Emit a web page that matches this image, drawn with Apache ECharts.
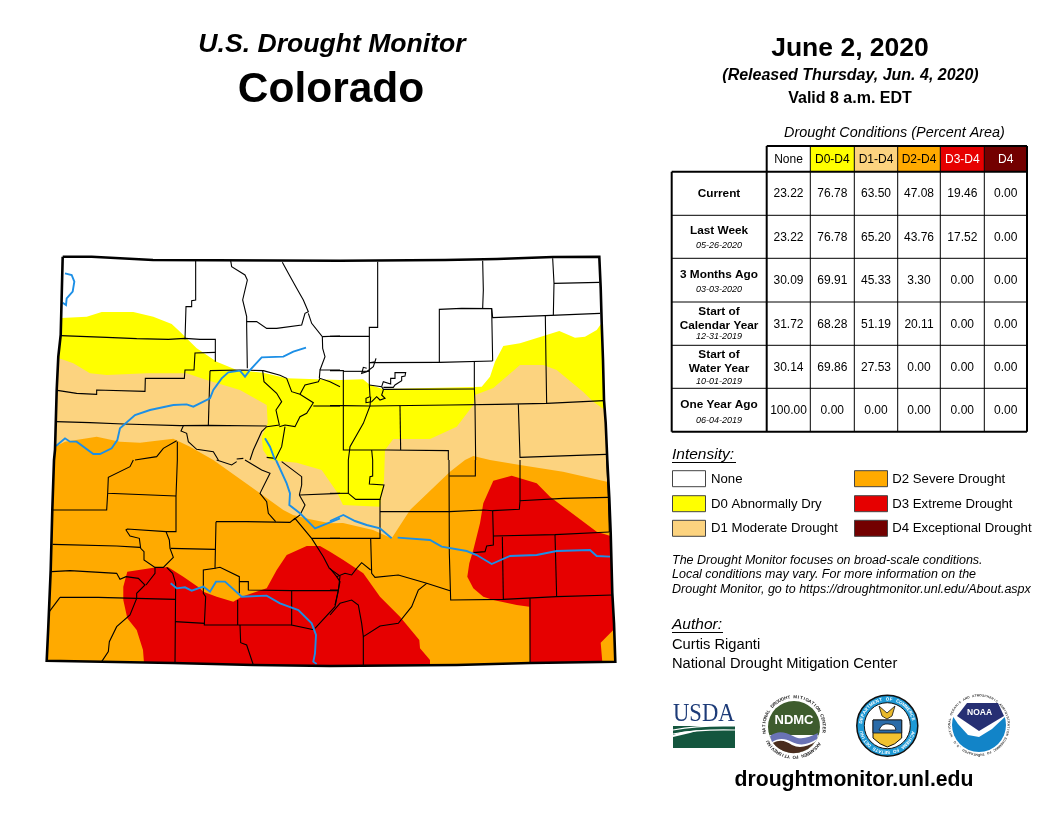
<!DOCTYPE html>
<html>
<head>
<meta charset="utf-8">
<title>U.S. Drought Monitor - Colorado</title>
<script src="https://cdn.jsdelivr.net/npm/echarts@6/dist/echarts.min.js"></script>
<style>
  html, body {margin: 0; padding: 0; background: #fff;}
  #main {width: 1056px; height: 816px;}
</style>
</head>
<body>
<div id="main"></div>
<script>
// table data
const columns = ["None", "D0-D4", "D1-D4", "D2-D4", "D3-D4", "D4"];
const current = ["23.22", "76.78", "63.50", "47.08", "19.46", "0.00"];
const lastWeek = ["23.22", "76.78", "65.20", "43.76", "17.52", "0.00"];
const threeMonths = ["30.09", "69.91", "45.33", "3.30", "0.00", "0.00"];
const calendarYear = ["31.72", "68.28", "51.19", "20.11", "0.00", "0.00"];
const waterYear = ["30.14", "69.86", "27.53", "0.00", "0.00", "0.00"];
const oneYear = ["100.00", "0.00", "0.00", "0.00", "0.00", "0.00"];
const rowValues = [current, lastWeek, threeMonths, calendarYear, waterYear, oneYear];
const legendNames = ["None", "D0 Abnormally Dry", "D1 Moderate Drought", "D2 Severe Drought", "D3 Extreme Drought", "D4 Exceptional Drought"];
const legendColors = ["#ffffff", "#ffff00", "#fcd37f", "#ffaa00", "#e60000", "#730000"];

// state border and drought areas, in map units
const stateBorder = [[62.7,256.7],[91.7,256.7],[153,260],[340,260.7],[445,260],[497,259],[553,257],[599.3,256.7],[600.7,288],[601.7,323],[603,360],[604,400],[605.7,423],[607.3,460],[609.3,498],[610.7,533],[612.3,593],[614,623],[615.3,661.7],[530,663],[456.7,665],[330,666],[253,665],[173,663],[101.7,661.7],[46.7,660.7],[48.3,626.7],[50.7,570],[52.3,510],[54,460],[55,450],[56.7,390],[58.3,356.7],[60.7,335]];
const d0Area = [[61.3,318],[86.7,316.7],[101.7,312],[133.3,312],[153.3,316.7],[171.7,324],[180,331.7],[196.7,348.3],[216.7,361.7],[236.7,370],[263.3,372.7],[286.7,378.3],[340,380],[363,379.3],[370,385],[383,389],[474,387],[481.7,386.7],[490,376.7],[495,361.7],[503.3,346],[520,343.3],[543.3,336],[559.3,331],[575,337.7],[585,336.7],[596.7,330],[601.7,323],[603,360],[604,400],[605.7,423],[607.3,460],[609.3,498],[610.7,533],[612.3,593],[614,623],[615.3,661.7],[530,663],[456.7,665],[330,666],[253,665],[173,663],[101.7,661.7],[46.7,660.7],[48.3,626.7],[50.7,570],[52.3,510],[54,460],[55,450],[56.7,390],[58.3,356.7],[60.7,335]];
const d1Area = [[59,358.3],[73.3,363.3],[90,373.3],[106.7,375],[146.7,373.3],[186.7,373.3],[206.7,380],[240,390],[266.7,405],[267.7,423.3],[261.7,436.7],[263,450],[270,460],[296.7,462.7],[321.7,470],[336.7,491.7],[343,505],[380,506.7],[384,480],[385,450],[393.3,439],[430,439],[456.7,426.7],[473.3,405],[475,395],[493.3,388],[520,365],[543.3,365],[556.7,370],[583,391.7],[593.3,401.7],[604,409.3],[605.7,423],[607.3,460],[609.3,498],[610.7,533],[612.3,593],[614,623],[615.3,661.7],[530,663],[456.7,665],[330,666],[253,665],[173,663],[101.7,661.7],[46.7,660.7],[48.3,626.7],[50.7,570],[52.3,510],[54,460],[55,450],[56.7,390]];
const d2Area = [[55,446.7],[65,441.7],[96.7,436.7],[120,441.7],[140,442.7],[173.3,438.7],[190,446.7],[213.3,460],[260,493.3],[283.3,510],[293,515],[310,519.3],[330,523.3],[343,523],[373,530],[391.7,538.3],[410,510],[450,471.7],[465,460],[473.3,456],[490,460],[520,465],[563,471.7],[607,481.7],[609.3,498],[610.7,533],[612.3,593],[614,623],[615.3,661.7],[530,663],[456.7,665],[330,666],[253,665],[173,663],[101.7,661.7],[46.7,660.7],[48.3,626.7],[50.7,570],[52.3,510],[54,460]];
const d3West = [[127.3,571.7],[156.7,567.3],[168.3,567.3],[183.3,576.7],[200,588.3],[203.3,591.7],[216.7,596.7],[233.3,601.7],[241.7,596.7],[266.7,588.3],[276.7,570],[286.7,555],[306.7,546],[320,546],[330,551.7],[343.3,560],[363.3,573.3],[380,596.7],[400,616.7],[419.3,640],[420,648.3],[430,660],[430,665.3],[330,666],[253,665],[173,663],[144,663],[143,650],[136.7,630],[127.3,618.3],[123.3,600],[123.3,586.7]];
const d3East = [[493.3,480.7],[511.7,475.7],[536.7,483.3],[550,496.7],[570,511.7],[596.7,531.7],[610.6,536],[612.3,593],[613.3,630],[600.7,642.7],[602.3,662],[530,663],[529.3,606.7],[516.7,605],[493.3,600],[483.3,596.7],[473.3,588.3],[467.3,576.7],[469.3,563.3],[473.3,550],[480,523.3],[483.3,503.3]];

// county lines (3x units)
const countiesNW = [
  [[467,32],[467,150],[455,152],[455,170],[438,170],[435,268]],
  [[62,257],[200,262],[290,266],[385,268],[435,265],[480,268],[526,268],[526,335]],
  [[526,307],[465,309],[462,360],[435,360],[433,385],[316,385],[315,424],[170,420],[170,433],[110,430],[52,421]],
  [[48,515],[150,518],[250,522],[420,527],[505,526],[680,528]],
  [[510,362],[505,526]],
  [[510,362],[600,360],[670,362],[720,376],[740,385],[755,425],[780,433],[820,458],[800,490],[780,500],[765,530],[735,525],[718,530]],
  [[668,362],[672,395],[710,430],[725,455],[708,480],[718,525],[680,530],[665,545],[640,600],[630,630]],
  [[780,433],[795,405],[835,395],[840,385],[870,395],[900,410]],
  [[838,385],[840,360],[900,360]],
  [[820,468],[900,468]],
  [[735,530],[725,590],[705,630]],
  [[572,32],[575,50],[615,75],[622,90],[608,150],[620,200],[620,230],[622,355]],
  [[620,215],[650,215],[680,235],[710,235],[785,225],[795,190],[805,185],[790,150],[770,115],[745,70],[727,37]],
  [[805,190],[815,220],[847,260],[848,295],[855,320],[840,360]],
  [[847,260],[900,258]],
  [[430,527],[423,543],[440,550],[445,575],[470,598],[520,605],[535,630]],
  [[412,575],[412,630]],
  [[410,572],[370,595],[350,620],[285,630]],
  [[590,627],[610,625]],
  [[680,622],[705,625]]
];
const countiesNE = [
  [[143,35],[143,232],[118,232],[118,405],[120,440],[108,445],[108,458],[125,455],[140,440],[150,450],[165,445],[155,435],[160,420]],
  [[0,259],[118,259]],
  [[0,362],[40,362],[40,600],[170,600],[355,602],[355,630]],
  [[40,364],[118,364]],
  [[118,338],[328,337],[488,333]],
  [[328,337],[328,178],[395,175],[485,176],[488,333]],
  [[485,176],[488,203],[645,197],[810,190]],
  [[458,32],[460,120],[458,175]],
  [[668,25],[672,100],[670,195]],
  [[672,100],[808,97]],
  [[646,197],[648,340],[650,460]],
  [[433,335],[433,412],[435,465],[437,630]],
  [[118,405],[155,410],[160,418],[433,417]],
  [[118,338],[135,335],[138,325],[130,350],[110,365],[95,370],[100,352],[110,355]],
  [[155,410],[160,395],[182,402],[182,385],[195,385],[195,368],[227,368],[225,378],[215,380],[215,392],[195,405],[190,412],[160,412]],
  [[122,440],[120,468],[100,520],[60,590],[55,630]],
  [[0,467],[40,467],[120,468],[360,465],[500,463],[650,460],[822,452]],
  [[210,468],[212,600]],
  [[125,600],[128,630]],
  [[565,463],[570,622],[828,613]]
];
const countiesSW = [
  [[412,0],[408,110],[408,215],[378,215],[262,207],[258,210],[270,228],[298,235],[302,265],[312,275],[312,300],[345,322],[370,322],[400,292],[390,265],[388,240],[378,215]],
  [[280,0],[270,20],[205,52],[203,100],[408,108]],
  [[203,100],[200,150],[120,150],[37,150]],
  [[38,253],[230,258],[300,262]],
  [[392,265],[525,268]],
  [[528,185],[525,325],[490,330],[490,400],[497,410],[493,495],[755,495]],
  [[528,185],[620,185],[750,187],[765,175],[815,235],[900,235]],
  [[815,235],[850,290],[868,325],[900,348],[895,392],[885,440],[825,505]],
  [[35,335],[90,332],[230,340],[240,358],[258,350],[295,355],[315,375],[290,400],[290,415],[270,465],[230,500],[208,545],[205,575],[185,605]],
  [[60,412],[175,412],[405,418]],
  [[60,412],[28,455]],
  [[345,322],[345,340],[318,375]],
  [[380,322],[398,340],[407,370],[405,610]],
  [[405,485],[495,490]],
  [[600,495],[602,548],[620,555],[640,615]],
  [[593,420],[593,495]],
  [[598,365],[625,365],[625,390],[755,392],[895,392]],
  [[525,325],[540,322],[598,350],[598,400]],
  [[755,392],[755,495],[825,510]],
  [[707,185],[685,160],[680,125],[660,100],[690,40],[665,30],[615,0]],
  [[530,0],[575,15],[590,5]],
  [[780,105],[900,100]],
  [[778,105],[795,135],[780,165],[760,180]],
  [[725,5],[785,50],[785,75],[778,105]]
];
const countiesSE = [
  [[357,0],[358,280],[362,420],[520,418],[680,410],[848,405]],
  [[358,48],[436,48],[436,0]],
  [[150,155],[358,155],[460,150],[488,152],[490,228],[490,255],[470,258],[465,275],[430,278]],
  [[488,152],[568,148],[570,122],[700,115],[835,112]],
  [[570,0],[570,122]],
  [[830,0],[835,112],[838,216]],
  [[490,228],[675,224],[838,216]],
  [[517,230],[520,418]],
  [[675,224],[680,410]],
  [[600,415],[600,610]],
  [[0,235],[150,235],[150,118]],
  [[122,235],[125,340],[135,352],[205,345],[290,370],[360,392]],
  [[122,330],[95,308],[80,325],[65,345],[45,340],[20,350],[0,325]],
  [[0,465],[30,430],[65,420],[85,435],[95,490],[100,530],[150,498],[205,490],[245,440],[265,390],[290,370]],
  [[100,530],[100,615]],
  [[0,390],[25,390],[15,435]],
  [[20,350],[30,365],[25,390]],
  [[55,0],[55,100],[77,118],[150,118],[162,75],[118,72],[120,50],[128,48],[128,0]],
  [[0,100],[55,100]]
];

// rivers, same quadrant units
const riverNW = [
  [[48,588],[75,565],[90,575],[110,575],[160,612],[180,612],[215,595],[232,570],[240,535],[285,495],[330,480],[400,465],[440,463],[460,470],[510,445],[520,420],[545,385],[565,367],[600,362],[615,380],[630,360],[665,322],[730,320],[760,305],[798,293]],
  [[75,70],[95,75],[103,95],[98,125],[80,145],[78,165],[68,158]],
  [[675,565],[690,590],[705,630]]
];
const riverSW = [
  [[708,0],[740,70],[750,100],[748,135],[780,160],[825,205],[900,175]],
  [[392,370],[410,385],[435,382],[455,392],[490,380],[510,395],[528,365],[555,365],[605,410],[680,407],[720,430],[775,450],[815,490],[828,525],[825,580],[820,605],[830,612]]
];
const riverSE = [
  [[0,183],[40,165],[75,183],[110,195],[150,205],[185,235]],
  [[203,233],[300,240],[335,260],[410,273],[440,285],[485,312],[540,288],[620,285],[680,273],[780,270],[800,288],[840,290]]
];

const fromCrop = (ox, oy, lines) => lines.map(l => l.map(p => [p[0] / 3 + ox, p[1] / 3 + oy]));
const countyLines = [].concat(fromCrop(40, 250, countiesNW), fromCrop(330, 250, countiesNE), fromCrop(40, 460, countiesSW), fromCrop(330, 460, countiesSE));
const riverLines = [].concat(fromCrop(40, 250, riverNW), fromCrop(40, 460, riverSW), fromCrop(330, 460, riverSE));

const FONT = '"Liberation Sans", Arial, sans-serif';

function areaSeries(points, color) {
    return {
        type: 'custom', coordinateSystem: 'cartesian2d', silent: true, clip: false,
        data: [[0, 0]],
        renderItem: (params, api) => ({
            type: 'polygon',
            shape: {points: points.map(p => api.coord(p))},
            style: {fill: color}
        })
    };
}

function lineSeries(lines, color, width, z) {
    return {
        type: 'custom', coordinateSystem: 'cartesian2d', silent: true, clip: false, z: z,
        data: lines.map((l, i) => [i, 0]),
        renderItem: (params, api) => ({
            type: 'polyline',
            shape: {points: lines[params.dataIndex].map(p => api.coord(p))},
            style: {stroke: color, lineWidth: width, fill: null, lineJoin: 'miter'}
        })
    };
}

const g = [];
const logoShapes = [];
function txt(s, x, y, size, opt) {
    opt = opt || {};
    g.push({
        type: 'text', x: x, y: y, rotation: opt.rotation || 0, scaleX: opt.scaleX || 1, z: 20,
        style: {
            text: s, fill: opt.color || '#000', align: opt.align || 'left', verticalAlign: 'middle',
            font: (opt.style || '') + ' ' + size + 'px ' + (opt.family || FONT)
        }
    });
}
function rect(x, y, w, h, fill, stroke, lw) {
    g.push({type: 'rect', z: 10, shape: {x: x, y: y, width: w, height: h}, style: {fill: fill, stroke: stroke || null, lineWidth: lw || 1}});
}
function hline(x1, y1, x2, y2, lw, color) {
    g.push({type: 'line', z: 15, shape: {x1: x1, y1: y1, x2: x2, y2: y2}, style: {stroke: color || '#000', lineWidth: lw}});
}
function path(d, fill, stroke, lw) {
    logoShapes.push({type: 'path', shape: {pathData: d}, style: {fill: fill, stroke: stroke || null, lineWidth: lw || 1}});
}
function circle(cx, cy, r, fill, stroke, lw) {
    logoShapes.push({type: 'circle', shape: {cx: cx, cy: cy, r: r}, style: {fill: fill, stroke: stroke || null, lineWidth: lw || 1}});
}
// letters laid out around a logo ring
function ringText(s, cx, cy, r, startDeg, stepDeg, size, color) {
    s.split('').forEach((c, i) => {
        const a = (startDeg + i * stepDeg) * Math.PI / 180;
        txt(c, cx + r * Math.sin(a), cy - r * Math.cos(a), size, {rotation: -a, align: 'center', color: color, style: 'bold'});
    });
}

// titles
txt('U.S. Drought Monitor', 332, 45, 26.6, {style: 'italic bold', align: 'center'});
txt('Colorado', 331, 90.5, 42.5, {style: 'bold', align: 'center'});
txt('June 2, 2020', 850, 49, 26.5, {style: 'bold', align: 'center'});
txt('(Released Thursday, Jun. 4, 2020)', 850.5, 75.5, 16, {style: 'italic bold', align: 'center'});
txt('Valid 8 a.m. EDT', 850, 98.5, 16, {style: 'bold', align: 'center'});

// table
const colX = [766.7, 810.3, 854.3, 897.7, 940.3, 984.3, 1027];
const rowY = [171.7, 215.3, 258.3, 302, 345.3, 388.3, 431.7];
const headFill = ['#ffffff', '#ffff00', '#fcd37f', '#ffaa00', '#e60000', '#730000'];
const headText = ['#000', '#000', '#000', '#000', '#fff', '#fff'];
txt('Drought Conditions (Percent Area)', 894.5, 133, 14.4, {style: 'italic', align: 'center'});
columns.forEach((c, i) => {
    rect(colX[i], 146, colX[i + 1] - colX[i], 25.7, headFill[i]);
    txt(c, (colX[i] + colX[i + 1]) / 2, 159.5, 12, {align: 'center', color: headText[i]});
});
for (let i = 1; i < 6; i++) hline(colX[i], 146, colX[i], rowY[6], 1);
for (let i = 1; i < 6; i++) hline(671.7, rowY[i], colX[6], rowY[i], 1);
hline(colX[0], 146, colX[0], rowY[6], 2);
hline(colX[0], 146, colX[6], 146, 2);
hline(colX[6], 146, colX[6], rowY[6], 2);
hline(671.7, rowY[0], colX[6], rowY[0], 2);
hline(671.7, rowY[0], 671.7, rowY[6], 2);
hline(671.7, rowY[6], colX[6], rowY[6], 2);

const valueY = [193.5, 237.5, 280.5, 324.5, 367.5, 410.5];
rowValues.forEach((vals, r) => {
    vals.forEach((v, c) => txt(v, (colX[c] + colX[c + 1]) / 2, valueY[r], 12, {align: 'center'}));
});
const rowLabels = [
    [['Current', 193.5, 0]],
    [['Last Week', 230.5, 0], ['05-26-2020', 245.5, 1]],
    [['3 Months Ago', 274.5, 0], ['03-03-2020', 289.5, 1]],
    [['Start of', 311.5, 0], ['Calendar Year', 325.5, 0], ['12-31-2019', 336.5, 1]],
    [['Start of', 354.5, 0], ['Water Year', 368.5, 0], ['10-01-2019', 381.5, 1]],
    [['One Year Ago', 405, 0], ['06-04-2019', 420, 1]]
];
rowLabels.forEach(lines => lines.forEach(l => {
    if (l[2]) txt(l[0], 719, l[1], 9, {style: 'italic', align: 'center'});
    else txt(l[0], 719, l[1], 11.8, {style: 'bold', align: 'center'});
}));

// legend
txt('Intensity:', 672, 455, 15.5, {style: 'italic'});
hline(672, 462.5, 736, 462.5, 1);
const legendY = [470.7, 495.7, 520.3];
legendNames.forEach((name, i) => {
    const col = i < 3 ? 0 : 1;
    const y = legendY[i % 3];
    rect(col ? 854.5 : 672.5, y, 33, 16, legendColors[i], '#444', 1);
    txt(name, col ? 892.3 : 711, y + 8.5, 13.2, {});
});
txt('The Drought Monitor focuses on broad-scale conditions.', 672, 560.5, 12.5, {style: 'italic'});
txt('Local conditions may vary. For more information on the', 672, 574.8, 12.5, {style: 'italic'});
txt('Drought Monitor, go to https://droughtmonitor.unl.edu/About.aspx', 672, 589.5, 12.5, {style: 'italic'});
txt('Author:', 672, 624.5, 15.5, {style: 'italic'});
hline(672, 632.5, 723, 632.5, 1);
txt('Curtis Riganti', 672, 645, 14.7, {});
txt('National Drought Mitigation Center', 672, 664, 14.7, {});
txt('droughtmonitor.unl.edu', 854, 780, 21.2, {style: 'bold', align: 'center'});

// USDA logo
txt('USDA', 673, 714, 26, {family: '"Liberation Serif", serif', color: '#1d3b78', scaleX: 0.87});
path('M673,726 L735,726 L735,748 L673,748 Z', '#14563e');
path('M673,730 Q700,725 735,726', null, '#fff', 1.2);
path('M673,734 Q700,729 735,730', null, '#fff', 1.2);
path('M673,737 L673,735 L682,732 L700,730 L690,733 Z', '#fff');

// NDMC logo
circle(794, 727, 26, '#3e5c2e');
path('M769.3,735 L818.7,735 A26,26 0 0 1 769.3,735 Z', '#fff');
path('M770,736 C778,730 785,732 793,736 C801,741 809,737 818,733 L817,739 C808,745 800,746 792,742 C785,738 778,738 772,742 Z', '#6a73b5');
path('M773,743 C780,739 786,741 792,745 C800,749 808,746 815,742 A26,26 0 0 1 773,743 Z', '#4a2d1e');
txt('NDMC', 794, 720, 13, {style: 'bold', align: 'center', color: '#fff'});
ringText('NATIONAL DROUGHT MITIGATION CENTER', 794, 727, 30, -100, 6, 4.5, '#222');
ringText('UNIVERSITY OF NEBRASKA', 794, 727, 30, 240, -5.5, 4.5, '#222');

// Commerce seal
circle(887.3, 725.7, 30.5, '#1f9ad6', '#111', 1.5);
circle(887.3, 725.7, 23, '#fff', '#111', 1);
path('M873,720 L901.7,720 L901.7,738 Q895,745 887.3,747 Q880,745 873,738 Z', '#f2c230', '#111', 1);
path('M873,720 L901.7,720 L901.7,733 L873,733 Z', '#2a6ba8', '#111', 0.8);
path('M879,730 Q882,723 888,724 Q895,724 896,730 Z', '#fff', '#111', 0.8);
path('M879,706 L887,713 L895,706 L892,716 L887,719 L882,716 Z', '#e9b92c', '#111', 0.8);
ringText('DEPARTMENT OF COMMERCE', 887.3, 725.7, 26.5, -82, 7.5, 4.5, '#fff');
ringText('UNITED STATES OF AMERICA', 887.3, 725.7, 26.5, 255, -6.5, 4.5, '#fff');

// NOAA logo
circle(979, 725, 27, '#1284c8');
path('M950,697 L1008,697 L1008,714 L992,729 L979,737 L968,735 L958,724 L950,712 Z', '#fff');
path('M967,703 L998,703 L1004,716 L979,731 L957,716 Z', '#262f73');
txt('NOAA', 979.5, 713, 8.5, {style: 'bold', align: 'center', color: '#fff'});
ringText('NATIONAL OCEANIC AND ATMOSPHERIC ADMINISTRATION', 979, 725, 29.5, -112, 4.8, 3.2, '#333');
ringText('U.S. DEPARTMENT OF COMMERCE', 979, 725, 29.5, 234, -4.5, 3.2, '#333');

const logoSeries = {
    type: 'custom', coordinateSystem: 'cartesian2d', silent: true, clip: false, z: 7,
    data: [[0, 0]],
    renderItem: () => ({type: 'group', children: logoShapes})
};

const chart = echarts.init(document.getElementById('main'), null, {renderer: 'canvas'});
chart.setOption({
    animation: false,
    backgroundColor: '#fff',
    grid: {left: 0, right: 0, top: 0, bottom: 0},
    xAxis: {type: 'value', min: 0, max: 1056, show: false},
    yAxis: {type: 'value', min: 0, max: 816, inverse: true, show: false},
    series: [
        areaSeries(stateBorder, '#ffffff'),
        areaSeries(d0Area, '#ffff00'),
        areaSeries(d1Area, '#fcd37f'),
        areaSeries(d2Area, '#ffaa00'),
        areaSeries(d3West, '#e60000'),
        areaSeries(d3East, '#e60000'),
        lineSeries(countyLines, '#000', 1.1, 4),
        lineSeries(riverLines, '#1c8fe6', 1.9, 5),
        lineSeries([stateBorder.concat([stateBorder[0]])], '#000', 2.6, 6),
        logoSeries
    ],
    graphic: {elements: g}
});
</script>
</body>
</html>
